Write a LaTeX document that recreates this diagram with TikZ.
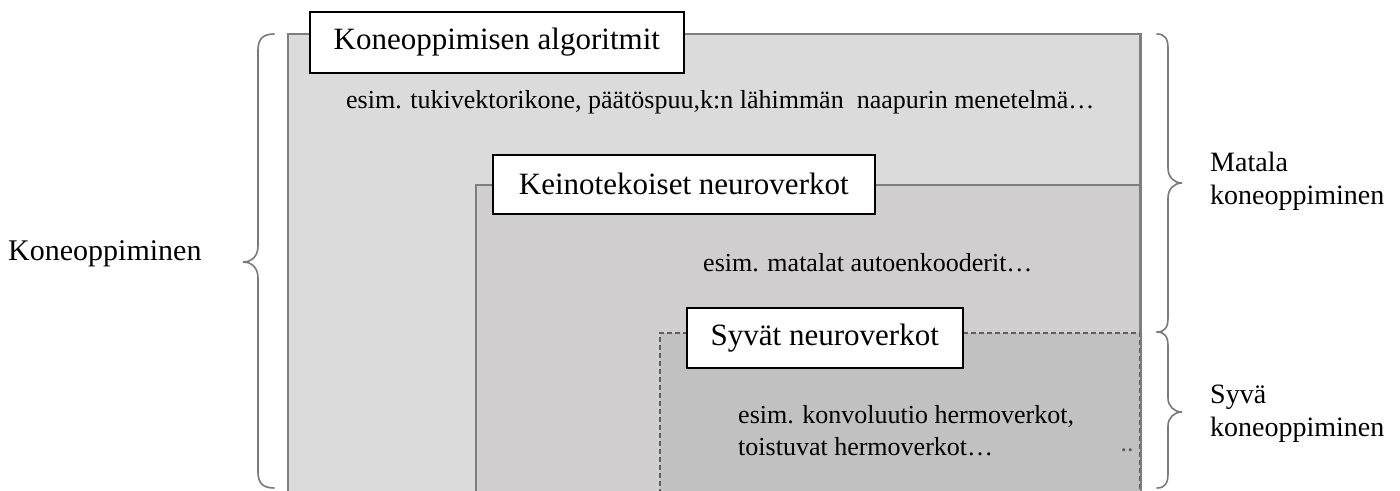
\documentclass[tikz,border=0pt]{standalone}
\usepackage{fontspec}
\setmainfont{Liberation Serif}
\begin{document}
\begin{tikzpicture}[x=1pt,y=-1pt,
  region/.style={draw=frame, line width=1.8pt, anchor=north west, inner sep=0pt},
  titlebox/.style={draw=black, fill=white, line width=1.6pt, anchor=north west,
    inner sep=0pt, font=\fontsize{31}{36}\selectfont},
  bodytext/.style={font=\fontsize{26}{32}\selectfont, inner sep=0pt},
  sidelabel/.style={font=\fontsize{28}{33}\selectfont, align=left, anchor=west, inner sep=0pt},
  curly/.style={draw=bracegray, line width=1.6pt, line cap=round},
]
\definecolor{frame}{HTML}{7E7E7E}
\definecolor{dashframe}{HTML}{5E5E5E}
\definecolor{bracegray}{HTML}{7A7A7A}
\definecolor{fillA}{HTML}{DBDBDB}
\definecolor{fillB}{HTML}{D0CECF}
\definecolor{fillC}{HTML}{C1C1C1}
\useasboundingbox (0,0) rectangle (1400,490);

\begin{scope}
\clip (0,0) rectangle (1400,490);
% nested regions, open at the bottom
\node[region, fill=fillA, minimum width=852pt, minimum height=480pt] (ml) at (287,33) {};
\node[region, fill=fillB, minimum width=664pt, minimum height=330pt] (ann) at (475,184) {};
\node[region, fill=fillC, draw=dashframe, dash pattern=on 5pt off 3pt, line width=2.4pt,
  minimum width=480pt, minimum height=180pt] (dnn) at (659,332) {};
\draw[draw=frame, line width=1.8pt] (ml.north east) -- (ml.south east);
\end{scope}

% titles
\node[titlebox, minimum width=374pt, minimum height=61pt] (t1) at (309,11) {Koneoppimisen algoritmit};
\node[titlebox, minimum width=382pt, minimum height=59pt] (t2) at (492,154) {Keinotekoiset neuroverkot};
\node[titlebox, minimum width=276pt, minimum height=60pt] (t3) at (686,307) {Syvät neuroverkot};

% examples
\node[bodytext, anchor=west] (e1) at (346,102) {esim. tukivektorikone, päätöspuu,k:n lähimmän \ naapurin menetelmä…};
\node[bodytext, anchor=west] (e2) at (703,263) {esim. matalat autoenkooderit…};
\node[bodytext, anchor=west, align=left] (e3) at (738,431) {esim. konvoluutio hermoverkot,\\toistuvat hermoverkot…};
\node[font=\fontsize{26}{26}\selectfont, text=black!65, inner sep=0pt, anchor=base] (dots) at (1127,451) {..};

% left brace
\draw[curly] (274,34) .. controls (263,34) and (258,39) .. (258,50) -- (258,246)
  .. controls (258,256) and (252,262) .. (243,262)
  .. controls (252,262) and (258,268) .. (258,278) -- (258,472)
  .. controls (258,483) and (263,488) .. (274,488);
\node[font=\fontsize{30}{36}\selectfont, anchor=west, inner sep=0pt] (lk) at (8,254) {Koneoppiminen};

% right braces
\draw[curly] (1157,34) .. controls (1165,34) and (1168,39) .. (1168,48) -- (1168,168)
  .. controls (1168,177) and (1174,183) .. (1182,183)
  .. controls (1174,183) and (1168,189) .. (1168,198) -- (1168,318)
  .. controls (1168,327) and (1165,332) .. (1157,332);
\draw[curly] (1157,332) .. controls (1165,332) and (1168,337) .. (1168,346) -- (1168,398)
  .. controls (1168,406) and (1174,412) .. (1182,412)
  .. controls (1174,412) and (1168,418) .. (1168,426) -- (1168,474)
  .. controls (1168,483) and (1165,488) .. (1157,488);
\node[sidelabel] (lm) at (1210,181) {Matala\\koneoppiminen};
\node[sidelabel] (ls) at (1210,414) {Syvä\\koneoppiminen};
\end{tikzpicture}
\end{document}
